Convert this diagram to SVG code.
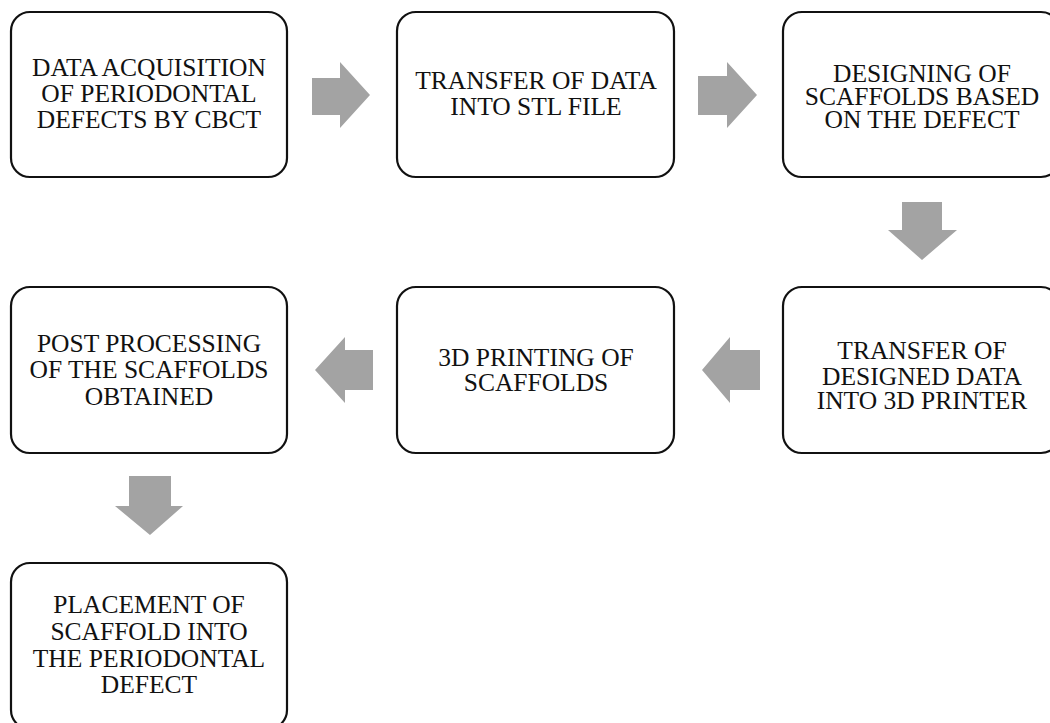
<svg xmlns="http://www.w3.org/2000/svg" width="1050" height="723" viewBox="0 0 1050 723">
<style>
.box{fill:#fff;stroke:#111;stroke-width:2.2}
.t{font-family:"Liberation Serif","Times New Roman",serif;font-size:25.5px;fill:#111;text-anchor:middle}
.arr{fill:#a3a3a3}
</style>
<rect width="1050" height="723" fill="#fff"/>
<g id="connectors">
<polygon class="arr" points="312,78 340,78 340,62 370,95 340,128 340,115 312,115"/>
<polygon class="arr" points="698,76 727,76 727,62 757,95 727,128 727,115 698,115"/>
<polygon class="arr" points="902,202 942,202 942,230 957,230 922,260 888,230 902,230"/>
<polygon class="arr" points="760,350 730,350 730,337 702,370 730,403 730,390 760,390"/>
<polygon class="arr" points="373,350 345,350 345,337 315,370 345,403 345,390 373,390"/>
<polygon class="arr" points="129,476 171,476 171,506 183,506 150,535 115,506 129,506"/>
</g>
<g id="n1">
<rect class="box" x="11" y="12" width="276" height="165" rx="19"/>
<text class="t" x="149" y="76">DATA ACQUISITION</text>
<text class="t" x="149" y="102">OF PERIODONTAL</text>
<text class="t" x="149" y="128">DEFECTS BY CBCT</text>
</g>
<g id="n2">
<rect class="box" x="397" y="12" width="277" height="165" rx="19"/>
<text class="t" x="536" y="89">TRANSFER  OF DATA</text>
<text class="t" x="536" y="115">INTO STL FILE</text>
</g>
<g id="n3">
<rect class="box" x="783" y="12" width="277" height="165" rx="19"/>
<text class="t" x="922" y="82">DESIGNING OF</text>
<text class="t" x="922" y="105">SCAFFOLDS BASED</text>
<text class="t" x="922" y="128">ON THE DEFECT</text>
</g>
<g id="n4">
<rect class="box" x="783" y="287" width="277" height="166" rx="19"/>
<text class="t" x="922" y="359">TRANSFER  OF</text>
<text class="t" x="922" y="385">DESIGNED DATA</text>
<text class="t" x="922" y="409">INTO 3D PRINTER</text>
</g>
<g id="n5">
<rect class="box" x="397" y="287" width="277" height="166" rx="19"/>
<text class="t" x="536" y="366">3D PRINTING OF</text>
<text class="t" x="536" y="391">SCAFFOLDS</text>
</g>
<g id="n6">
<rect class="box" x="11" y="287" width="276" height="166" rx="19"/>
<text class="t" x="149" y="352">POST PROCESSING</text>
<text class="t" x="149" y="378">OF THE SCAFFOLDS</text>
<text class="t" x="149" y="405">OBTAINED</text>
</g>
<g id="n7">
<rect class="box" x="11" y="563" width="276" height="166" rx="19"/>
<text class="t" x="149" y="613">PLACEMENT OF</text>
<text class="t" x="149" y="640">SCAFFOLD INTO</text>
<text class="t" x="149" y="667">THE PERIODONTAL</text>
<text class="t" x="149" y="693">DEFECT</text>
</g>
</svg>
